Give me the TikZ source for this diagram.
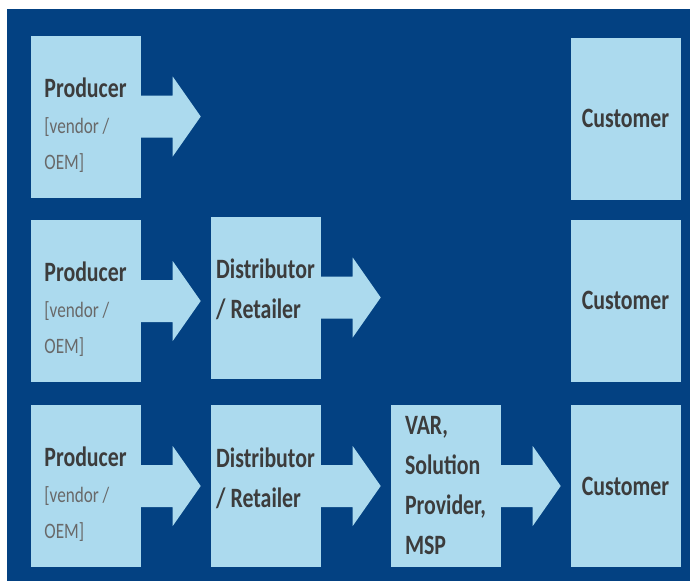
\documentclass[tikz,border=0pt]{standalone}
\usepackage{fontspec}
\setmainfont{Carlito}[FakeStretch=0.78]

\definecolor{bgblue}{RGB}{3,65,130}
\definecolor{boxblue}{RGB}{172,218,238}
\definecolor{labelgray}{RGB}{60,60,60}
\definecolor{subgray}{RGB}{105,105,105}

\newcommand{\subtext}{\fontsize{22}{35}\selectfont\mdseries\color{subgray}}
% strut that pushes the producer text down a little
\newcommand{\lowstrut}{\rule{0pt}{36pt}}
% strut that lifts the distributor text a little
\newcommand{\highstrut}{\rule[-17pt]{0pt}{0pt}}
% block arrow leaving the right side of a box
\newcommand{\flow}[1]{\fill[boxblue] (#1.east) ++(0,-21) -- ++(32,0) -- ++(0,-19) -- ++(28,40) -- ++(-28,40) -- ++(0,-19) -- ++(-32,0) -- cycle;}

\tikzset{stage/.style={rectangle, fill=boxblue, minimum width=110pt, minimum height=162pt,
  inner sep=0pt, align=left, text=labelgray, font=\fontsize{28}{40}\selectfont\bfseries}}

\begin{document}
\begin{tikzpicture}[x=1pt, y=-1pt]

    \useasboundingbox (0,0) rectangle (690,581);
    \fill[bgblue] (7,9) rectangle (690,581);

    % row 1
    \node[stage] (prod1) at (85.5,116.5){\lowstrut Producer\\[-4pt] \subtext [vendor /\\[-4pt] \subtext OEM]};
    \node[stage] (cust1) at (625.5,118.5){Customer};
    \flow{prod1}

    % row 2
    \node[stage] (prod2) at (85.5,301){\lowstrut Producer\\[-4pt] \subtext [vendor /\\[-4pt] \subtext OEM]};
    \node[stage] (dist2) at (265.5,297.5){Distributor\\ / Retailer\highstrut};
    \node[stage] (cust2) at (625.5,300.5){Customer};
    \flow{prod2}
    \flow{dist2}

    % row 3
    \node[stage] (prod3) at (85.5,486){\lowstrut Producer\\[-4pt] \subtext [vendor /\\[-4pt] \subtext OEM]};
    \node[stage] (dist3) at (265.5,486){Distributor\\ / Retailer\highstrut};
    \node[stage] (var3) at (445.5,486){VAR,\\ Solution\\ Provider,\\ MSP};
    \node[stage] (cust3) at (625.5,486){Customer};
    \flow{prod3}
    \flow{dist3}
    \flow{var3}

\end{tikzpicture}
\end{document}
